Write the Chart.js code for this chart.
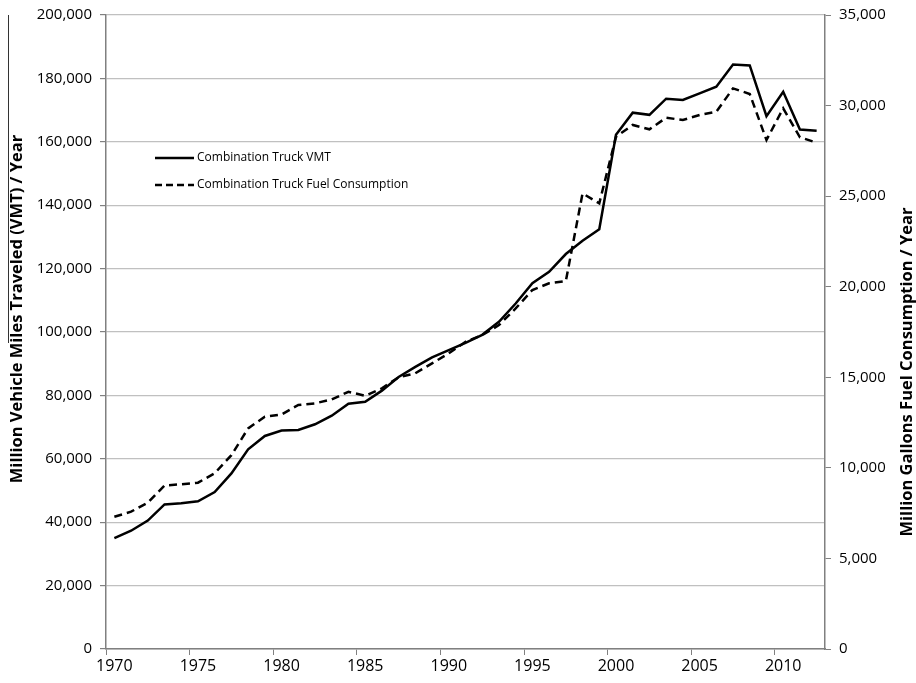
<!DOCTYPE html>
<html>
<head>
<meta charset="utf-8">
<script src="https://cdn.jsdelivr.net/npm/chart.js@4.4.1/dist/chart.umd.min.js"></script>
<style>
  html, body { margin: 0; padding: 0; background: #fff; }
  #wrap { width: 916px; height: 683px; }
</style>
</head>
<body>
<div id="wrap"><canvas id="myChart" width="916" height="683"></canvas></div>
<script>
'use strict';

// data
let years = [];
for (let y = 1970; y <= 2012; y++) {
  years.push(String(y));
}

let vmtValues = [
  35000, 37300, 40500, 45600, 46000, 46600, 49500, 55400, 63000, 67200,
  68900, 69100, 70900, 73600, 77400, 78000, 81500, 85800, 89000, 92000,
  94300, 96600, 99100, 103200, 109000, 115400, 119000, 124600, 128800, 132400,
  162200, 169200, 168500, 173600, 173200, 175300, 177400, 184400, 184100, 168100,
  175800, 163900, 163500
];

let fuelValues = [
  7300, 7580, 8080, 9030, 9090, 9180, 9700, 10700, 12180, 12820,
  12950, 13470, 13560, 13780, 14200, 13980, 14390, 15000, 15220, 15770,
  16320, 16960, 17330, 17880, 18800, 19820, 20190, 20310, 25150, 24600,
  28280, 28930, 28690, 29330, 29200, 29480, 29660, 30950, 30640, 28100,
  29850, 28250, 27950
];

let seriesNames = ['Combination Truck VMT', 'Combination Truck Fuel Consumption'];
let axisTitles = ['Million Vehicle Miles Traveled (VMT) / Year', 'Million Gallons Fuel Consumption / Year'];

const ctx = document.getElementById('myChart');
const tickFont = { family: 'Open Sans', size: 15 };

// legend inside the plot, axis titles, and the stray line beside the left title
const extras = {
  id: 'extras',
  afterDraw(chart) {
    let c = chart.ctx;
    c.save();
    c.strokeStyle = '#000';
    c.lineWidth = 2.5;
    c.font = '12px "Open Sans"';
    c.fillStyle = '#000';
    c.textBaseline = 'middle';

    c.beginPath();
    c.moveTo(155, 158);
    c.lineTo(194, 158);
    c.stroke();
    c.fillText(seriesNames[0], 197, 158);

    c.setLineDash([7, 4]);
    c.beginPath();
    c.moveTo(155, 185);
    c.lineTo(194, 185);
    c.stroke();
    c.setLineDash([]);
    c.fillText(seriesNames[1], 197, 185);

    c.font = 'bold 16.5px "Open Sans"';
    c.textAlign = 'center';
    c.save();
    c.translate(17, 309);
    c.rotate(-Math.PI / 2);
    c.fillText(axisTitles[0], 0, 0);
    c.restore();
    c.save();
    c.translate(907, 372);
    c.rotate(-Math.PI / 2);
    c.fillText(axisTitles[1], 0, 0);
    c.restore();

    c.strokeStyle = '#333';
    c.lineWidth = 1;
    c.beginPath();
    c.moveTo(8.5, 15);
    c.lineTo(8.5, 343);
    c.stroke();
    c.restore();
  }
};

function fixWidth(w) {
  return function (scale) {
    scale.width = w;
    scale.paddingTop = 0;
    scale.paddingBottom = 0;
  };
}

let chartObj = {
  type: 'line',
  data: {
    labels: years,
    datasets: [{
      label: seriesNames[0],
      data: vmtValues,
      yAxisID: 'y',
      borderColor: '#000',
      borderWidth: 2.5,
      pointRadius: 0,
      tension: 0
    },
    {
      label: seriesNames[1],
      data: fuelValues,
      yAxisID: 'y2',
      borderColor: '#000',
      borderWidth: 2.5,
      borderDash: [8, 5],
      pointRadius: 0,
      tension: 0
    }]
  },
  options: {
    responsive: false,
    animation: false,
    layout: { padding: { top: 15, left: 0, right: 0, bottom: 0 } },
    plugins: {
      legend: { display: false },
      tooltip: { enabled: false }
    },
    scales: {
      x: {
        type: 'category',
        offset: true,
        afterFit(scale) { scale.height = 34; },
        border: { display: true, color: '#808080', width: 1.5 },
        grid: {
          offset: true,
          drawOnChartArea: false,
          drawTicks: true,
          tickLength: 6,
          tickColor: (c) => (c.index % 5 === 0 ? '#808080' : 'rgba(0,0,0,0)')
        },
        ticks: {
          autoSkip: false,
          maxRotation: 0,
          color: '#000',
          font: { family: 'Open Sans', size: 16 },
          padding: 2,
          callback: function (val) {
            let lab = this.getLabelForValue(val);
            return Number(lab) % 5 === 0 ? lab : '';
          }
        }
      },
      y: {
        position: 'left',
        min: 0,
        max: 200000,
        afterFit: fixWidth(106),
        border: { display: true, color: '#808080', width: 1.5 },
        grid: {
          color: '#c0c0c0',
          lineWidth: 1.2,
          drawTicks: true,
          tickLength: 6,
          tickColor: '#808080'
        },
        ticks: {
          stepSize: 20000,
          color: '#000',
          font: tickFont,
          padding: 8,
          callback: (v) => v.toLocaleString('en-US')
        }
      },
      y2: {
        position: 'right',
        min: 0,
        max: 35000,
        afterFit: fixWidth(91),
        border: { display: true, color: '#808080', width: 1.5 },
        grid: {
          drawOnChartArea: false,
          drawTicks: true,
          tickLength: 6,
          tickColor: '#808080'
        },
        ticks: {
          stepSize: 5000,
          color: '#000',
          font: tickFont,
          padding: 8,
          callback: (v) => v.toLocaleString('en-US')
        }
      }
    }
  },
  plugins: [extras]
};

new Chart(ctx, chartObj);
</script>
</body>
</html>
